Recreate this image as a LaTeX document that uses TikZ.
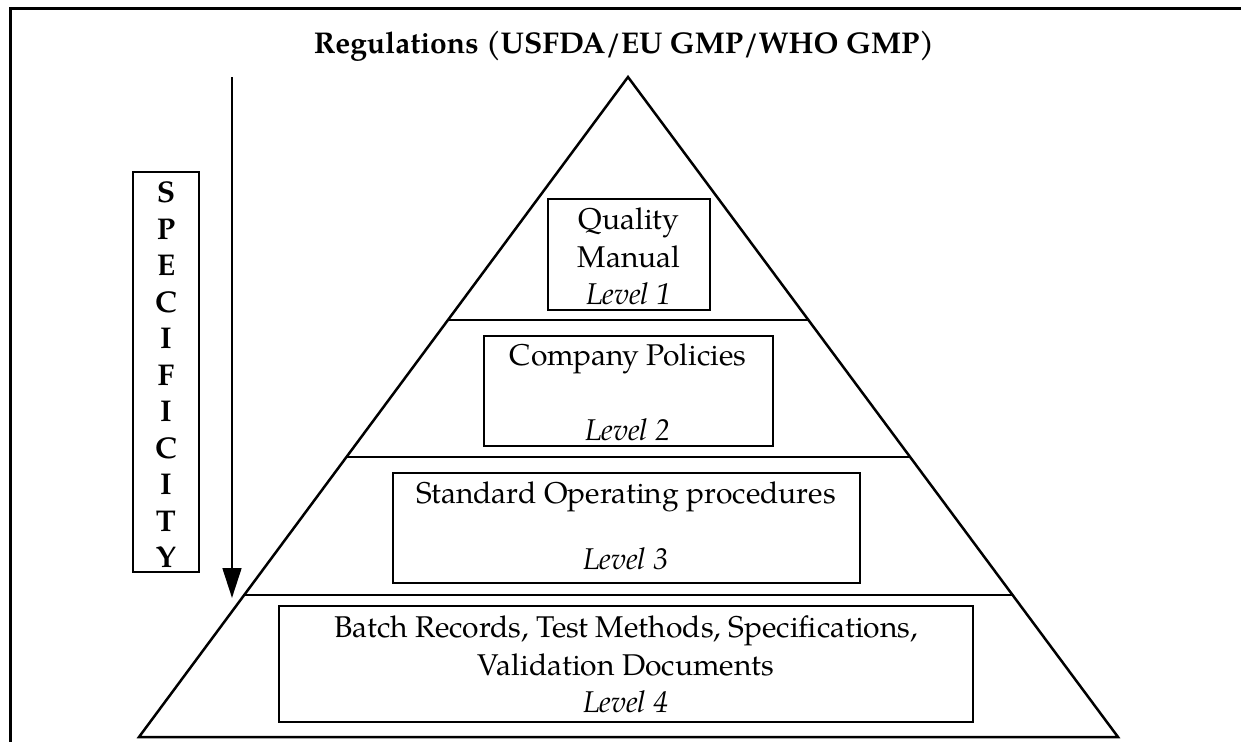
\documentclass[tikz,border=0pt]{standalone}
\usepackage{fontspec}
\setmainfont{texgyrepagella}[Extension=.otf, UprightFont=*-regular, BoldFont=*-bold, ItalicFont=*-italic, BoldItalicFont=*-bolditalic]
\usetikzlibrary{arrows.meta,calc,fit}
\begin{document}
\begin{tikzpicture}[x=0.4pt,y=-0.4pt,
  txt/.style={inner sep=0pt, anchor=base, font=\fontsize{12}{14}\selectfont},
  lvl/.style={inner sep=0pt, anchor=base, font=\fontsize{12}{14}\selectfont\itshape},
  boxed/.style={draw, line width=0.8pt, inner sep=0pt},
  tri/.style={line width=1pt, line join=miter},
  frame/.style={line width=1.2pt}]
\useasboundingbox (0,0) rectangle (1241,742);
% frame
\coordinate (ftr) at (1241,8);
\coordinate (ftl) at (10,8);
\coordinate (fbl) at (10,742);
\draw[frame] (ftr) -- (ftl) -- (fbl);
% title
\node[txt, font=\fontsize{12}{14}\selectfont\bfseries] (title) at (624,53) {Regulations (USFDA/EU GMP/WHO GMP)};
% pyramid
\coordinate (apex) at (628,77);
\coordinate (bl) at (139,737);
\coordinate (br) at (1118,737);
\draw[tri] (apex) -- (bl) -- (br) -- cycle;
\coordinate (d1l) at ($(apex)!0.3682!(bl)$);
\coordinate (d1r) at ($(apex)!0.3682!(br)$);
\coordinate (d2l) at ($(apex)!0.5758!(bl)$);
\coordinate (d2r) at ($(apex)!0.5758!(br)$);
\coordinate (d3l) at ($(apex)!0.7848!(bl)$);
\coordinate (d3r) at ($(apex)!0.7848!(br)$);
\draw[tri] (d1l) -- (d1r);
\draw[tri] (d2l) -- (d2r);
\draw[tri] (d3l) -- (d3r);
% level boxes
\node[boxed, fit={(548,199) (710,310)}] (b1) {};
\node[boxed, fit={(484,336) (773,446)}] (b2) {};
\node[boxed, fit={(393,473) (860,583)}] (b3) {};
\node[boxed, fit={(279,606) (973,722)}] (b4) {};
% texts
\node[txt] (t1a) at (629,229) {Quality};
\node[txt] (t1b) at (629,267) {Manual};
\node[lvl] (t1c) at (629,304) {Level 1};
\node[txt] (t2a) at (628,365) {Company Policies};
\node[lvl] (t2b) at (628,440) {Level 2};
\node[txt] (t3a) at (626,503) {Standard Operating procedures};
\node[lvl] (t3b) at (626,569) {Level 3};
\node[txt] (t4a) at (626,637) {Batch Records, Test Methods, Specifications,};
\node[txt] (t4b) at (626,675) {Validation Documents};
\node[lvl] (t4c) at (626,712) {Level 4};
% specificity
\node[boxed, fit={(133,172) (199,572)}] (specbox) {};
\node[inner sep=0pt, align=center, font=\fontsize{12}{14.6}\selectfont\bfseries] (spec) at (166,375) {S\\P\\E\\C\\I\\F\\I\\C\\I\\T\\Y};
% arrow
\coordinate (atop) at (232,77);
\coordinate (abot) at (232,598);
\draw[line width=1pt, -{Triangle[length=12pt,width=7.5pt]}] (atop) -- (abot);
\end{tikzpicture}
\end{document}
